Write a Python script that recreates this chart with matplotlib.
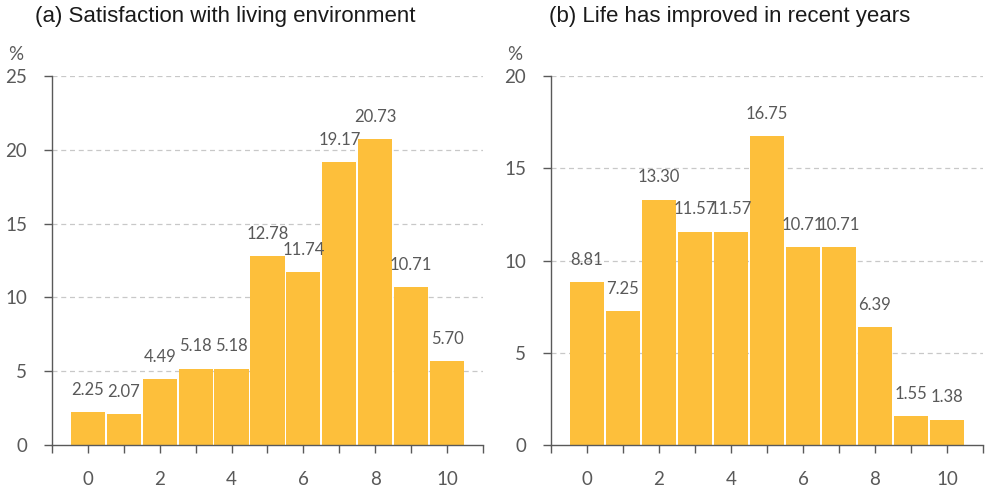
import matplotlib
matplotlib.use("Agg")
import matplotlib.pyplot as plt

scores = list(range(11))
living_env = [2.25, 2.07, 4.49, 5.18, 5.18, 12.78, 11.74, 19.17, 20.73, 10.71, 5.70]
life_improved = [8.81, 7.25, 13.30, 11.57, 11.57, 16.75, 10.71, 10.71, 6.39, 1.55, 1.38]
titles = ["(a) Satisfaction with living environment", "(b) Life has improved in recent years"]
y_max = [25, 20]

BAR = "#FDBF3B"
GREY = "#595959"
TICK_FONT = "Lato"

fig = plt.figure(figsize=(9.86, 4.9), dpi=100)
axes = [fig.add_axes([0.0527, 0.0918, 0.4371, 0.753]),
        fig.add_axes([0.5588, 0.0918, 0.4381, 0.753])]

for ax, vals, title, top in zip(axes, [living_env, life_improved], titles, y_max):
    ax.bar(scores, vals, width=0.95, color=BAR, edgecolor="none", zorder=2)
    for x, v in zip(scores, vals):
        ax.annotate(f"{v:.2f}", (x, v), xytext=(0, 16), textcoords="offset points",
                    ha="center", va="center", fontsize=12, family=TICK_FONT,
                    color=GREY, zorder=3)

    ax.set_xlim(-1, 11)
    ax.set_ylim(0, top)
    ax.set_xticks(range(-1, 12))
    ax.set_xticklabels([str(i) if i in range(0, 11, 2) else "" for i in range(-1, 12)])
    ax.set_yticks(range(0, top + 1, 5))
    ax.tick_params(axis="x", length=6, width=1, color=GREY, pad=13,
                   labelsize=13.5, labelcolor=GREY)
    ax.tick_params(axis="y", length=6, width=1, color=GREY, pad=12,
                   labelsize=13.5, labelcolor=GREY)
    for lab in ax.get_xticklabels() + ax.get_yticklabels():
        lab.set_family(TICK_FONT)

    for y in range(5, top + 1, 5):
        ax.axhline(y, color="#C8C8C8", lw=0.9, ls=(0, (4, 3)), zorder=1)

    for s in ["top", "right"]:
        ax.spines[s].set_visible(False)
    for s in ["left", "bottom"]:
        ax.spines[s].set_color(GREY)
        ax.spines[s].set_linewidth(1)

    ax.text(-0.085, 1.035, "%", transform=ax.transAxes, ha="center", va="bottom",
            fontsize=13.5, family=TICK_FONT, color=GREY)

fig.text(0.0355, 0.988, titles[0], ha="left", va="top", fontsize=16,
         family="Liberation Sans", color="#1a1a1a")
fig.text(0.557, 0.988, titles[1], ha="left", va="top", fontsize=16,
         family="Liberation Sans", color="#1a1a1a")

fig.savefig("out.png", dpi=100)
